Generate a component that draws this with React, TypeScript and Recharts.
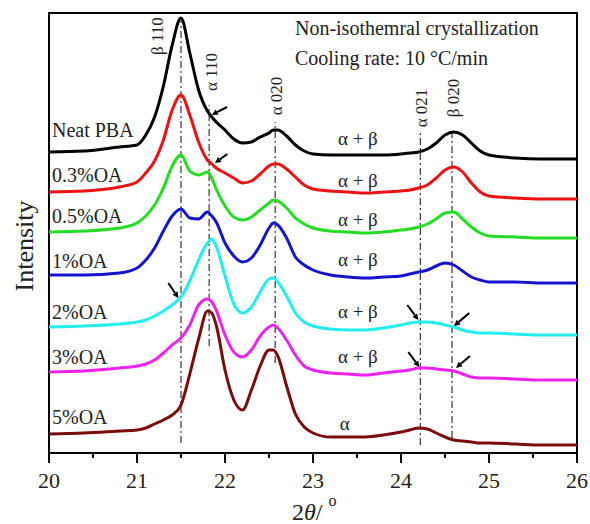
import React from 'react';
import { LineChart, Line, XAxis, YAxis, ReferenceLine, ReferenceArea, ReferenceDot } from 'recharts';

const FONT = '"Liberation Serif", "Times New Roman", serif';

// 2theta grid (degrees)
const twoTheta = [
  20, 20.4, 20.8, 21.0, 21.1, 21.2, 21.3, 21.4, 21.5, 21.6, 21.7, 21.8, 21.85, 21.9, 22.0, 22.1,
  22.2, 22.3, 22.4, 22.5, 22.55, 22.6, 22.7, 22.8, 22.9, 23.0, 23.2, 23.4, 23.6, 23.8, 24.0, 24.1,
  24.2, 24.3, 24.4, 24.5, 24.6, 24.7, 24.8, 24.9, 25.0, 25.3, 25.6, 26.0,
];

// intensities (a.u., curves shifted vertically)
const neatPBA = [
  301, 302, 306, 308, 318, 336, 367, 408, 435, 400, 363, 342, 336, 331, 323, 314,
  310, 311, 316, 320, 323, 323, 317, 308, 302, 299, 298, 298, 298, 298, 299, 300,
  301, 304, 310, 318, 321, 318, 310, 302, 298, 295, 294, 294,
];
const oa03 = [
  261, 262, 266, 271, 280, 292, 313, 343, 358, 338, 311, 293, 289, 285, 280, 275,
  270, 272, 279, 287, 289, 289, 284, 276, 268, 264, 262, 261, 260, 261, 262, 263,
  265, 268, 275, 283, 286, 281, 270, 261, 257, 255, 254, 254,
];
const oa05 = [
  221, 222, 225, 230, 237, 248, 265, 287, 298, 282, 278, 281, 275, 264, 247, 236,
  233, 236, 243, 250, 253, 252, 245, 235, 229, 225, 222, 221, 220, 221, 223, 224,
  226, 229, 234, 240, 241, 234, 226, 220, 217, 216, 215, 215,
];
const oa1 = [
  178, 178, 180, 185, 193, 205, 222, 237, 244, 235, 234, 241, 237, 231, 210, 197,
  191, 195, 208, 225, 230, 228, 215, 196, 188, 183, 178, 176, 175, 176, 177, 179,
  181, 183, 187, 190, 188, 182, 176, 173, 171, 171, 170, 170,
];
const oa2 = [
  126, 127, 129, 131, 133, 137, 142, 148, 156, 172, 193, 210, 214, 207, 177, 149,
  140, 146, 161, 174, 175, 171, 157, 140, 131, 127, 124, 123, 123, 125, 128, 130,
  131, 131, 130, 128, 126, 123, 121, 120, 120, 119, 118, 118,
];
const oa3 = [
  81, 82, 85, 87, 89, 93, 100, 108, 115, 128, 148, 154, 151, 143, 118, 101,
  96, 103, 117, 126, 128, 125, 113, 98, 87, 83, 80, 79, 78, 80, 82, 83,
  85, 85, 84, 83, 82, 79, 76, 75, 75, 74, 73, 73,
];
const oa5 = [
  19, 20, 22, 23, 25, 29, 33, 38, 48, 79, 114, 142, 140, 128, 83, 53,
  43, 63, 87, 103, 103, 97, 67, 39, 26, 20, 16, 16, 16, 18, 21, 23,
  25, 24, 20, 16, 13, 12, 11, 10, 10, 9, 8, 8,
];

const seriesKeys = ['neat', 'oa03', 'oa05', 'oa1', 'oa2', 'oa3', 'oa5'];
const seriesNames = ['Neat PBA', '0.3%OA', '0.5%OA', '1%OA', '2%OA', '3%OA', '5%OA'];
const seriesColors = ['#000000', '#ee1111', '#22dd22', '#1414cc', '#22eeee', '#ee22ee', '#7a0c0c'];
const phases = ['α + β', 'α + β', 'α + β', 'α + β', 'α + β', 'α + β', 'α'];

const xTicks = [20, 20.5, 21, 21.5, 22, 22.5, 23, 23.5, 24, 24.5, 25, 25.5, 26];

const data = twoTheta.map((t, i) => ({
  t,
  neat: neatPBA[i],
  oa03: oa03[i],
  oa05: oa05[i],
  oa1: oa1[i],
  oa2: oa2[i],
  oa3: oa3[i],
  oa5: oa5[i],
}));

// annotation placement (data units)
const nameLabelY = [316, 271, 230, 185, 134, 89, 29];
const phaseLabelY = [308, 266, 227, 187, 135, 90, 23];
const phaseLabelX = [23.51, 23.51, 23.51, 23.51, 23.51, 23.51, 23.36];

const peakLines = [
  { label: 'β 110', x: 21.5, from: 10, to: 433, lx: 21.295, ly: 417 },
  { label: 'α 110', x: 21.82, from: 107, to: 348, lx: 21.909, ly: 381 },
  { label: 'α 020', x: 22.57, from: 90, to: 331, lx: 22.648, ly: 357 },
  { label: 'α 021', x: 24.22, from: 8, to: 320, lx: 24.295, ly: 345 },
  { label: 'β 020', x: 24.58, from: 15, to: 325, lx: 24.659, ly: 355 },
];

const arrows = [
  { x1: 22.023, y1: 346, x2: 21.85, y2: 338 },
  { x1: 22.026, y1: 299, x2: 21.886, y2: 290 },
  { x1: 21.356, y1: 170, x2: 21.47, y2: 155 },
  { x1: 24.072, y1: 148, x2: 24.197, y2: 133 },
  { x1: 24.776, y1: 140, x2: 24.602, y2: 127 },
  { x1: 24.083, y1: 101, x2: 24.208, y2: 86 },
  { x1: 24.784, y1: 97, x2: 24.625, y2: 85 },
];

const Arrow = (p: any) => {
  const { x1, y1, x2, y2 } = p;
  if ([x1, y1, x2, y2].some((v) => typeof v !== 'number' || isNaN(v))) return null;
  const ang = Math.atan2(y2 - y1, x2 - x1);
  const L = 6;
  const W = 3;
  const bx = x2 - L * Math.cos(ang);
  const by = y2 - L * Math.sin(ang);
  const pts = `${x2},${y2} ${bx - W * Math.sin(ang)},${by + W * Math.cos(ang)} ${bx + W * Math.sin(ang)},${by - W * Math.cos(ang)}`;
  return (
    <g>
      <line x1={x1} y1={y1} x2={bx} y2={by} stroke="#000" strokeWidth={2} />
      <polygon points={pts} fill="#000" />
    </g>
  );
};

const textShape = (content: React.ReactNode, size: number, anchor: string, rotate = false) => (p: any) => (
  <text
    x={p.cx}
    y={p.cy}
    textAnchor={anchor}
    fontFamily={FONT}
    fontSize={size}
    fill="#222"
    transform={rotate ? `rotate(-90, ${p.cx}, ${p.cy})` : undefined}
  >
    {content}
  </text>
);

const XTick = (p: any) => {
  const { x, y, payload } = p;
  const major = Number.isInteger(payload.value);
  return (
    <g>
      <line x1={x} x2={x} y1={y} y2={y + (major ? 10 : 5)} stroke="#000" strokeWidth={2} />
      {major && (
        <text x={x} y={y + 35} textAnchor="middle" fontFamily={FONT} fontSize={22} fill="#222">
          {payload.value}
        </text>
      )}
    </g>
  );
};

const XTitle = (p: any) => {
  const vb = p.viewBox || { x: 49, y: 453 };
  return (
    <text x={vb.x + 243} y={vb.y + 67} fontFamily={FONT} fontSize={24} fill="#222">
      <tspan>2</tspan>
      <tspan fontStyle="italic">θ</tspan>
      <tspan>/ </tspan>
      <tspan dy={-14} fontSize={16}>o</tspan>
    </text>
  );
};

const YTitle = (p: any) => {
  const vb = p.viewBox || { x: 0, y: 13, height: 440 };
  const cx = vb.x + 33;
  const cy = vb.y + vb.height / 2 + 13;
  return (
    <text x={cx} y={cy} textAnchor="middle" fontFamily={FONT} fontSize={26} fill="#222" transform={`rotate(-90, ${cx}, ${cy})`}>
      Intensity
    </text>
  );
};

export default function App() {
  return (
    <div style={{ position: 'absolute', left: 0, top: 0, background: '#fff' }}>
      <LineChart width={590} height={524} data={data} margin={{ top: 13, right: 13, bottom: 0, left: 0 }}>
        <XAxis
          dataKey="t"
          type="number"
          domain={[20, 26]}
          ticks={xTicks}
          interval={0}
          height={71}
          tickSize={0}
          tickMargin={0}
          tickLine={false}
          axisLine={{ stroke: '#000', strokeWidth: 2 }}
          tick={<XTick />}
          label={{ content: (lp: any) => <XTitle viewBox={lp.viewBox} /> }}
        />
        <YAxis
          type="number"
          domain={[0, 440]}
          width={49}
          tick={false}
          tickLine={false}
          axisLine={false}
          allowDataOverflow
          label={{ content: (lp: any) => <YTitle viewBox={lp.viewBox} /> }}
        />
        <ReferenceArea x1={20} x2={26} y1={0} y2={440} fill="none" stroke="#000" strokeWidth={2} />
        {peakLines.map((pl) => (
          <ReferenceLine
            key={pl.label}
            segment={[{ x: pl.x, y: pl.from }, { x: pl.x, y: pl.to }]}
            stroke="#333"
            strokeWidth={1.2}
            strokeDasharray="7 3 2 3"
          />
        ))}
        {seriesKeys.map((k, i) => (
          <Line
            key={k}
            dataKey={k}
            name={seriesNames[i]}
            type="monotone"
            stroke={seriesColors[i]}
            strokeWidth={3}
            dot={false}
            isAnimationActive={false}
          />
        ))}
        {arrows.map((a, i) => (
          <ReferenceLine key={`arr${i}`} segment={[{ x: a.x1, y: a.y1 }, { x: a.x2, y: a.y2 }]} shape={Arrow} />
        ))}
        {peakLines.map((pl) => (
          <ReferenceDot key={`pl${pl.label}`} x={pl.lx} y={pl.ly} r={0} shape={textShape(pl.label, 17, 'middle', true)} />
        ))}
        {seriesNames.map((n, i) => (
          <ReferenceDot key={`n${n}`} x={20.034} y={nameLabelY[i]} r={0} shape={textShape(n, 20, 'start')} />
        ))}
        {phases.map((ph, i) => (
          <ReferenceDot key={`ph${i}`} x={phaseLabelX[i]} y={phaseLabelY[i]} r={0} shape={textShape(ph, 19, 'middle')} />
        ))}
        <ReferenceDot x={22.795} y={418} r={0} shape={textShape('Non-isothemral crystallization', 20, 'start')} />
        <ReferenceDot x={22.795} y={388} r={0} shape={textShape('Cooling rate: 10 °C/min', 20, 'start')} />
      </LineChart>
    </div>
  );
}
